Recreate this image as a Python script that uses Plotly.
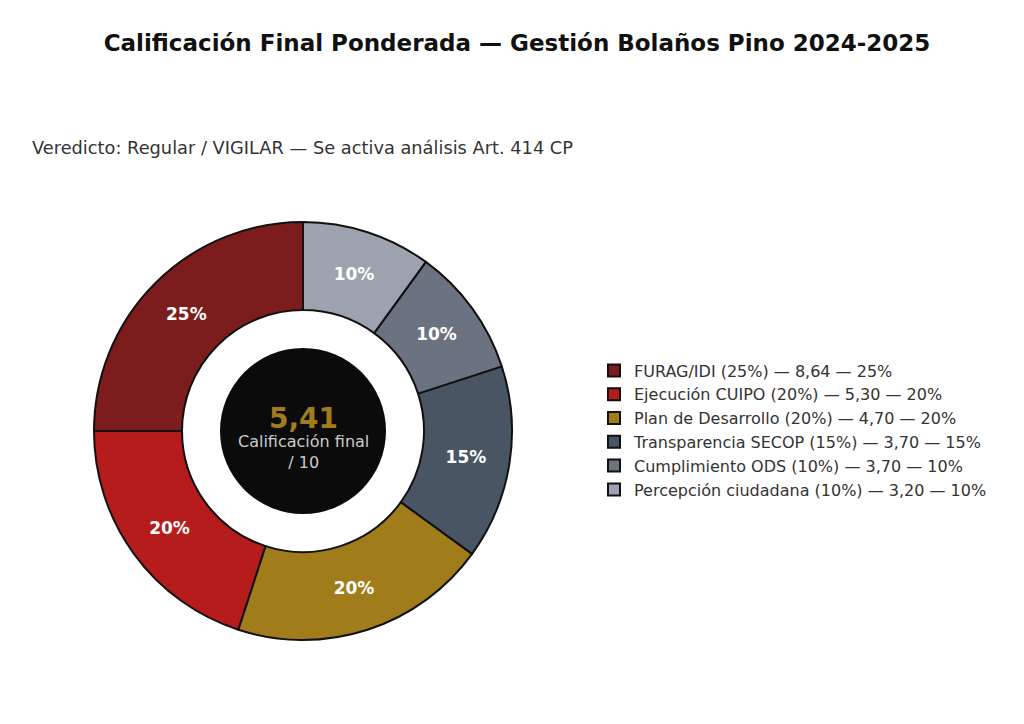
import plotly.graph_objects as go

categories = ["FURAG/IDI", "Ejecución CUIPO", "Plan de Desarrollo",
              "Transparencia SECOP", "Cumplimiento ODS", "Percepción ciudadana"]
weights = [25, 20, 20, 15, 10, 10]
scores = ["8,64", "5,30", "4,70", "3,70", "3,70", "3,20"]
colors = ["#7d1c1c", "#b71c1c", "#a17c1b", "#4a5563", "#6b7280", "#9ca3af"]
final_score = "5,41"

legend_labels = [f"{c} ({w}%) — {s} — {w}%" for c, w, s in zip(categories, weights, scores)]

W, H = 1024, 724
OFF = 8  # page body margin
cx, cy, R = 303 - OFF, 431 - OFF, 209
hole = 121 / 209
inner_r = 83

fig = go.Figure(go.Pie(
    labels=legend_labels,
    values=weights,
    sort=False,
    direction="counterclockwise",
    rotation=-90,
    hole=hole,
    marker=dict(colors=colors, line=dict(color="#111111", width=2)),
    texttemplate="<b>%{percent:.0%}</b>",
    textposition="inside",
    insidetextorientation="horizontal",
    textfont=dict(family="DejaVu Sans", size=17, color="white"),
    hoverinfo="label+percent",
    domain=dict(x=[(cx - R) / W, (cx + R) / W],
                y=[(H - cy - R) / H, (H - cy + R) / H]),
))

fig.add_shape(type="circle", xref="paper", yref="paper",
              x0=(cx - inner_r) / W, x1=(cx + inner_r) / W,
              y0=(H - cy - inner_r) / H, y1=(H - cy + inner_r) / H,
              fillcolor="#0b0b0b", line=dict(width=0), layer="above")

fig.add_annotation(x=cx / W, y=(H - (418 - OFF)) / H, xref="paper", yref="paper",
                   xanchor="center", yanchor="middle",
                   text=f"<b>{final_score}</b>", showarrow=False,
                   font=dict(family="DejaVu Sans", size=28, color="#a17c1b"))
fig.add_annotation(x=cx / W, y=(H - (452 - OFF)) / H, xref="paper", yref="paper",
                   xanchor="center", yanchor="middle",
                   text="Calificación final<br>/ 10", showarrow=False,
                   font=dict(family="DejaVu Sans", size=16, color="#cccccc"))

fig.add_annotation(x=(30 - OFF) / W, y=(H - (148 - OFF)) / H, xref="paper", yref="paper",
                   xanchor="left", yanchor="middle",
                   text="Veredicto: Regular / VIGILAR — Se activa análisis Art. 414 CP",
                   showarrow=False,
                   font=dict(family="DejaVu Sans", size=17.8, color="#333333"))

fig.update_layout(
    width=W, height=H,
    margin=dict(l=0, r=0, t=0, b=0),
    paper_bgcolor="white", plot_bgcolor="white",
    title=dict(text="<b>Calificación Final Ponderada — Gestión Bolaños Pino 2024-2025</b>",
               x=(517 - OFF) / W, xanchor="center", y=1 - (43 - OFF) / H, yanchor="middle",
               yref="container", xref="container",
               font=dict(family="DejaVu Sans", size=23, color="#111111")),
    legend=dict(x=(634 - OFF - 40) / W, y=(H - (430 - OFF)) / H, xanchor="left", yanchor="middle",
                font=dict(family="DejaVu Sans", size=16, color="#333333"),
                bgcolor="rgba(0,0,0,0)", tracegroupgap=0),
    showlegend=True,
)

fig.write_html("out.html")
